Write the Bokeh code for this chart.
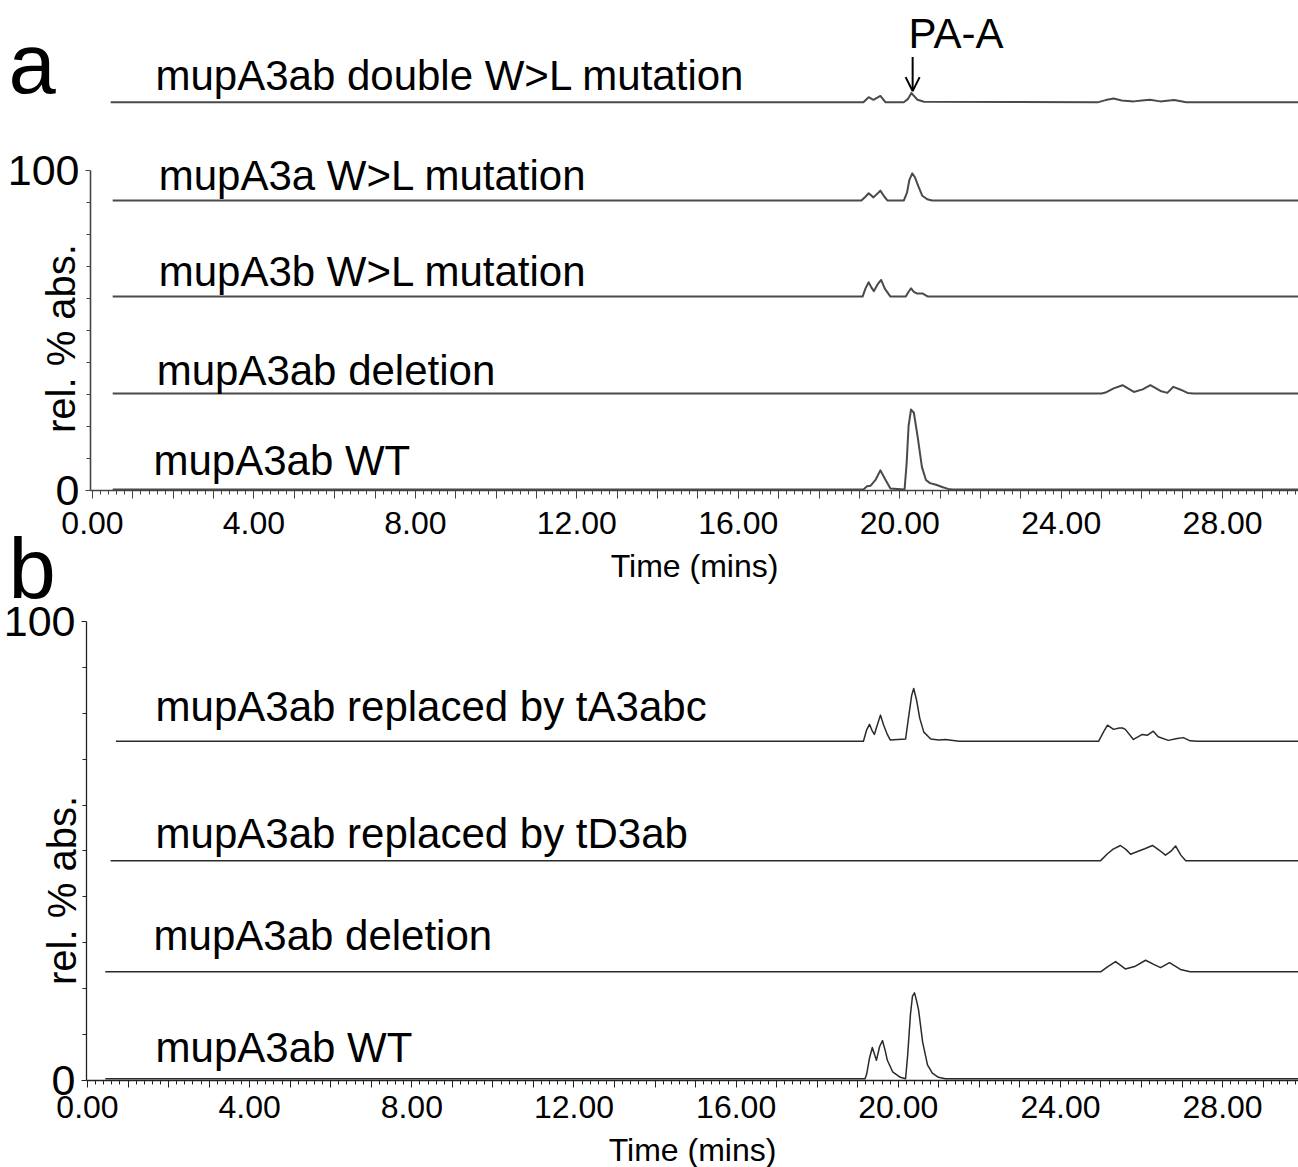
import math
from bokeh.plotting import figure
from bokeh.models import (Range1d, FixedTicker, CustomJSTickFormatter, Label, Arrow, OpenHead,
                          LinearAxis)
from bokeh.embed import file_html
from bokeh.resources import INLINE

FONT = "Liberation Sans"

# ---------------- data ----------------
# panel a : trace names, baseline levels (rel. % abs.), time / value pairs (value above baseline)
a_names = ["mupA3ab double W>L mutation", "mupA3a W>L mutation", "mupA3b W>L mutation",
           "mupA3ab deletion", "mupA3ab WT"]
a_offsets = [121.3, 90.6, 60.6, 30.3, 0.3]

a_double_t = [0.45, 19.10, 19.23, 19.35, 19.52, 19.65, 20.10, 20.20, 20.29, 20.44, 20.60,
              24.90, 25.10, 25.30, 25.50, 25.80, 26.00, 26.20, 26.45, 26.80, 27.10, 29.88]
a_double_v = [0, 0, 1.6, 0.8, 2.0, 0, 0, 1.0, 2.9, 0.8, 0.2,
              0, 0.7, 1.2, 0.6, 0.3, 0.6, 0.8, 0.3, 0.7, 0, 0]

a_3a_t = [0.5, 19.05, 19.15, 19.23, 19.35, 19.52, 19.62, 19.70, 20.10, 20.18, 20.24, 20.31,
          20.38, 20.46, 20.56, 20.68, 20.80, 29.88]
a_3a_v = [0, 0, 1.2, 2.3, 1.0, 3.1, 1.2, 0, 0, 2.5, 6.5, 8.5, 7.2, 4.5, 1.5, 0.4, 0, 0]

a_3b_t = [0.5, 19.08, 19.15, 19.23, 19.30, 19.36, 19.45, 19.54, 19.63, 19.77, 20.15, 20.22,
          20.28, 20.35, 20.42, 20.56, 20.70, 29.88]
a_3b_v = [0, 0, 2.5, 4.5, 2.8, 1.7, 3.8, 5.2, 2.5, 0, 0, 1.5, 2.6, 1.5, 1.0, 1.0, 0, 0]

a_del_t = [0.5, 25.0, 25.1, 25.3, 25.52, 25.8, 26.02, 26.21, 26.46, 26.63, 26.78, 26.96,
           27.13, 27.28, 29.88]
a_del_v = [0, 0, 0.3, 1.6, 2.6, 0.5, 1.3, 2.6, 0.8, 0.2, 2.1, 1.2, 0.2, 0, 0]

a_wt_t = [0.5, 19.10, 19.19, 19.28, 19.40, 19.52, 19.65, 19.77, 20.12, 20.17, 20.22, 20.28,
          20.35, 20.45, 20.55, 20.65, 20.75, 20.90, 21.05, 21.20, 21.30, 29.88]
a_wt_v = [0, 0, 1.0, 1.2, 3.0, 6.0, 3.0, 0.3, 0, 8.0, 20.0, 25.0,
          24.0, 16.0, 7.0, 3.0, 2.0, 1.5, 0.8, 0.2, 0, 0]

# panel b
b_names = ["mupA3ab replaced by tA3abc", "mupA3ab replaced by tD3ab",
           "mupA3ab deletion", "mupA3ab WT"]
b_offsets = [73.9, 47.9, 23.7, 0.4]

b_ta_t = [0.7, 19.14, 19.22, 19.29, 19.36, 19.41, 19.48, 19.56, 19.64, 19.73, 19.80, 20.18,
          20.25, 20.33, 20.38, 20.45, 20.53, 20.63, 20.80, 21.00, 21.16, 21.50, 24.94, 25.06,
          25.16, 25.31, 25.45, 25.53, 25.60, 25.80, 26.02, 26.14, 26.29, 26.41, 26.66, 26.88,
          27.03, 27.20, 27.38, 29.87]
b_ta_v = [0, 0, 2.5, 3.7, 2.2, 1.5, 3.5, 5.7, 3.5, 1.5, 0.3, 0.5,
          5.0, 10.0, 11.5, 9.0, 5.0, 2.0, 0.5, 0.3, 0.4, 0, 0, 2.0,
          3.5, 2.6, 2.9, 2.9, 2.6, 0.4, 1.5, 1.3, 2.2, 1.0, 0.2, 0.6,
          0.8, 0.1, 0, 0]

b_td_t = [0.57, 24.99, 25.16, 25.30, 25.48, 25.62, 25.73, 25.90, 26.08, 26.27, 26.45, 26.59,
          26.72, 26.84, 26.97, 27.09, 29.87]
b_td_v = [0, 0, 1.5, 2.5, 3.3, 2.4, 1.4, 2.0, 2.6, 3.3, 2.2, 1.2, 2.0, 3.2, 1.2, 0, 0]

b_del_t = [0.44, 25.00, 25.15, 25.36, 25.60, 25.85, 26.10, 26.30, 26.47, 26.69, 26.96, 27.20, 29.87]
b_del_v = [0, 0, 1.0, 2.2, 0.6, 1.2, 2.5, 1.6, 0.9, 2.0, 0.5, 0, 0]

b_wt_t = [0.44, 19.18, 19.22, 19.29, 19.36, 19.46, 19.54, 19.61, 19.68, 19.73, 19.86, 20.05,
          20.18, 20.23, 20.30, 20.35, 20.40, 20.45, 20.50, 20.60, 20.72, 20.84, 20.99, 21.16, 29.87]
b_wt_v = [0, 0, 1.0, 4.5, 6.8, 4.0, 7.0, 8.3, 6.0, 4.0, 1.5, 0.3,
          0, 5.0, 14.0, 18.0, 18.7, 17.0, 15.0, 8.0, 3.0, 1.2, 0.3, 0, 0]

x_major = list(range(0, 30))
x_minor = [i / 5 for i in range(0, 150)]
y_major = [0, 100]
y_minor = list(range(10, 100, 10))

a_traces = [(a_double_t, a_double_v), (a_3a_t, a_3a_v), (a_3b_t, a_3b_v),
            (a_del_t, a_del_v), (a_wt_t, a_wt_v)]
b_traces = [(b_ta_t, b_ta_v), (b_td_t, b_td_v), (b_del_t, b_del_v), (b_wt_t, b_wt_v)]


def style_x(xa, color, lw, yloc, xend, tick_out, standoff, label_standoff):
    xa.fixed_location = 0
    xa.bounds = (yloc, xend)
    xa.ticker = FixedTicker(ticks=x_major, minor_ticks=x_minor)
    xa.formatter = CustomJSTickFormatter(
        code="return (Math.round(tick) % 4 === 0) ? tick.toFixed(2) : '';")
    xa.axis_line_color = color
    xa.axis_line_width = lw
    xa.major_tick_line_color = color
    xa.minor_tick_line_color = color
    xa.major_tick_in = 0
    xa.major_tick_out = tick_out
    xa.minor_tick_in = 0
    xa.minor_tick_out = 4
    xa.major_label_standoff = standoff
    xa.major_label_text_font = FONT
    xa.major_label_text_font_size = "32px"
    xa.major_label_text_color = "black"
    xa.axis_label = "Time (mins)"
    xa.axis_label_standoff = label_standoff
    xa.axis_label_text_font = FONT
    xa.axis_label_text_font_size = "32px"
    xa.axis_label_text_font_style = "normal"
    xa.axis_label_text_color = "black"


def style_y(ya, color, lw, yloc):
    ya.fixed_location = yloc
    ya.ticker = FixedTicker(ticks=y_major, minor_ticks=y_minor)
    ya.bounds = (0, 100)
    ya.axis_line_color = color
    ya.axis_line_width = lw
    ya.major_tick_line_color = color
    ya.minor_tick_line_color = color
    ya.major_tick_in = 0
    ya.major_tick_out = 5
    ya.minor_tick_in = 0
    ya.minor_tick_out = 4
    ya.major_label_standoff = 6
    ya.major_label_text_font = FONT
    ya.major_label_text_font_size = "43px"
    ya.major_label_text_color = "black"


def add_label(p, text, x, y, size, align="left", angle=0.0, panel="a"):
    kw = {} if panel == "a" else dict(x_range_name="xb", y_range_name="yb")
    p.add_layout(Label(x=x, y=y, text=text, text_font=FONT, text_font_size=size,
                       text_color="black", text_align=align, text_baseline="middle",
                       angle=angle, **kw))


# one canvas, two coordinate systems: default ranges for panel a, "xb"/"yb" for panel b
p = figure(width=1298, height=1167, output_backend="svg", toolbar_location=None,
           x_range=Range1d(-2.2795, 29.88), y_range=Range1d(-211.56, 153.125),
           min_border_left=0, min_border_right=0, min_border_top=0, min_border_bottom=0)
p.extra_x_ranges = {"xb": Range1d(-2.146, 29.872)}
p.extra_y_ranges = {"yb": Range1d(-18.954, 235.29)}
p.grid.visible = False
p.outline_line_color = None
p.background_fill_color = "white"
p.border_fill_color = "white"

# ---------------- panel a ----------------
style_x(p.xaxis[0], "#444444", 1.6, -0.05, 29.88, 8, 13, 11)
style_y(p.yaxis[0], "#444444", 1.6, -0.05)

for (t, v), off in zip(a_traces, a_offsets):
    p.line(t, [off + vi for vi in v], line_color="#4a4a4a", line_width=2.0, line_join="round")

a_label_pos = [(1.56, 129.7), (1.64, 98.4), (1.64, 68.4), (1.59, 37.5), (1.51, 9.4)]
for name, (lx, ly) in zip(a_names, a_label_pos):
    add_label(p, name, lx, ly, "42px")

add_label(p, "a", -2.08, 133.4, "85px")
add_label(p, "b", -2.08, -24.4, "85px")
add_label(p, "PA-A", 20.22, 142.8, "42px")
p.add_layout(Arrow(end=OpenHead(size=14, line_width=2, line_color="black"),
                   x_start=20.32, y_start=135.5, x_end=20.32, y_end=124.8,
                   line_width=2, line_color="black"))
add_label(p, "rel. % abs.", -0.79, 47.5, "40px", align="center", angle=math.pi / 2)

# ---------------- panel b ----------------
xb_axis = LinearAxis(x_range_name="xb", y_range_name="yb")
yb_axis = LinearAxis(x_range_name="xb", y_range_name="yb")
style_x(xb_axis, "#222222", 1.3, -0.025, 29.872, 7, 9, 10)
style_y(yb_axis, "#222222", 1.3, -0.025)
p.add_layout(xb_axis, "below")
p.add_layout(yb_axis, "left")

for (t, v), off in zip(b_traces, b_offsets):
    p.line(t, [off + vi for vi in v], line_color="#2a2a2a", line_width=1.5, line_join="round",
           x_range_name="xb", y_range_name="yb")

b_label_pos = [(1.68, 81.5), (1.68, 53.8), (1.63, 31.6), (1.68, 7.2)]
for name, (lx, ly) in zip(b_names, b_label_pos):
    add_label(p, name, lx, ly, "42px", panel="b")
add_label(p, "rel. % abs.", -0.62, 41.4, "40px", align="center", angle=math.pi / 2, panel="b")

open("out.html", "w").write(file_html(p, INLINE))
